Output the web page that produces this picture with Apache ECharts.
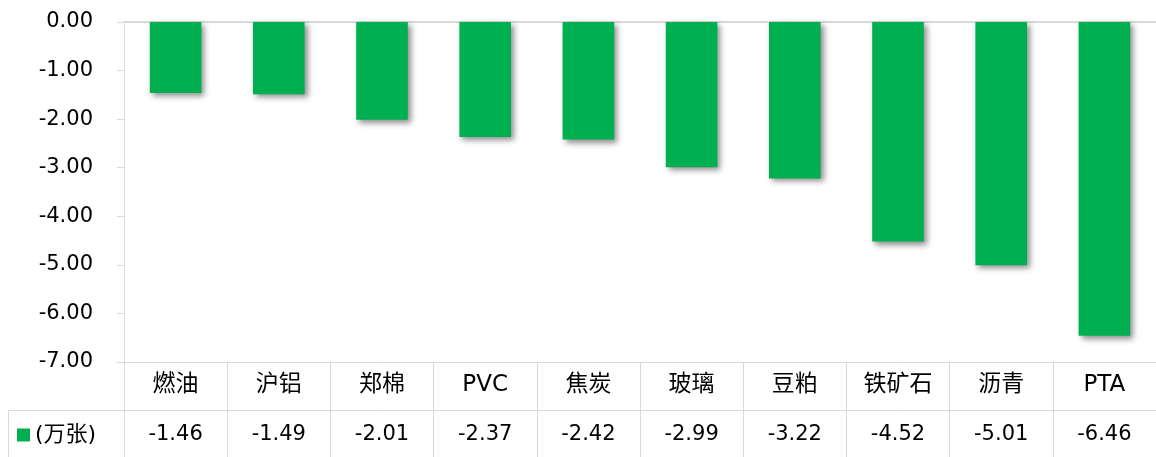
<!DOCTYPE html>
<html>
<head>
<meta charset="utf-8">
<script src="https://cdn.jsdelivr.net/npm/echarts@6/dist/echarts.min.js"></script>
<style>
  html, body { margin: 0; padding: 0; background: #fff; }
  #chart { width: 1156px; height: 457px; }
</style>
</head>
<body>
<div id="chart"></div>
<script>
// 品种及持仓变化（万张）
const categories = ['燃油', '沪铝', '郑棉', 'PVC', '焦炭', '玻璃', '豆粕', '铁矿石', '沥青', 'PTA'];
const values = [-1.46, -1.49, -2.01, -2.37, -2.42, -2.99, -3.22, -4.52, -5.01, -6.46];
const seriesName = '(万张)';

const FONT = '"DejaVu Sans", "Noto Sans CJK SC", sans-serif';
const LINE = '#d9d9d9';
const GREEN = '#00b050';

const chart = echarts.init(document.getElementById('chart'));

const option = {
  backgroundColor: '#fff',
  animation: false,
  grid: { left: 124, right: -1, top: 22, bottom: 95 },
  legend: {
    data: [seriesName],
    left: 12,
    top: 419,
    itemWidth: 13,
    itemHeight: 13,
    itemGap: 4,
    icon: 'rect',
    textStyle: { fontFamily: FONT, fontSize: 22, color: '#000' }
  },
  graphic: [
    {
      type: 'rect',
      shape: { x: 8.5, y: 410.5, width: 116, height: 60 },
      style: { fill: 'none', stroke: LINE, lineWidth: 1 }
    }
  ],
  xAxis: [
    {
      // 品种行
      type: 'category',
      data: categories,
      position: 'bottom',
      axisLine: { show: true, onZero: false, lineStyle: { color: LINE, width: 1 } },
      axisTick: { show: true, length: 95, lineStyle: { color: LINE } },
      axisLabel: { margin: 12, fontFamily: FONT, fontSize: 23, color: '#000' }
    },
    {
      // 数值行
      type: 'category',
      data: values.map(v => v.toFixed(2)),
      position: 'bottom',
      offset: 48,
      axisLine: { show: true, onZero: false, lineStyle: { color: LINE, width: 1 } },
      axisTick: { show: false },
      axisLabel: { margin: 14, fontFamily: FONT, fontSize: 21, color: '#000' }
    },
    {
      // 零线
      type: 'category',
      data: categories,
      position: 'top',
      axisLine: { show: true, onZero: false, lineStyle: { color: LINE, width: 2 } },
      axisTick: { show: false },
      axisLabel: { show: false }
    }
  ],
  yAxis: {
    type: 'value',
    min: -7,
    max: 0,
    interval: 1,
    axisLine: { show: true, lineStyle: { color: LINE } },
    axisTick: { show: true, length: 7, lineStyle: { color: LINE } },
    splitLine: { show: false },
    axisLabel: {
      margin: 31,
      fontFamily: FONT,
      fontSize: 21,
      color: '#000',
      formatter: v => v.toFixed(2)
    }
  },
  series: [
    {
      name: seriesName,
      type: 'bar',
      xAxisIndex: 0,
      data: values,
      barWidth: '50%',
      itemStyle: {
        color: GREEN,
        shadowColor: 'rgba(0,0,0,0.45)',
        shadowBlur: 6,
        shadowOffsetX: 3,
        shadowOffsetY: 3
      }
    }
  ]
};

chart.setOption(option);
</script>
</body>
</html>
